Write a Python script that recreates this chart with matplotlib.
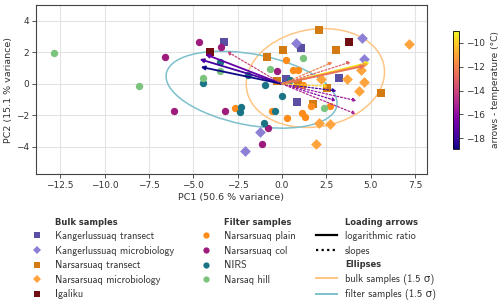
import numpy as np
import matplotlib
matplotlib.use("Agg")
import matplotlib.pyplot as plt
from matplotlib.lines import Line2D
from matplotlib.patches import Ellipse
from matplotlib.font_manager import FontProperties

plt.rcParams['font.family'] = ['DejaVu Sans']
plt.rcParams['mathtext.fontset'] = 'cm'

# ---------------- data ----------------
# Bulk samples
kang_tr_x = [-3.27, 1.09, 0.25, 3.19, 0.87]
kang_tr_y = [2.66, 2.30, 0.29, 0.36, -1.13]
kang_mb_x = [0.81, 4.53, 4.60, -1.22, -2.06]
kang_mb_y = [2.62, 2.89, 1.60, -3.06, -4.28]
nars_tr_x = [2.07, 0.07, 3.04, -0.86, -0.31, 0.89, 2.54, 5.60, 1.72]
nars_tr_y = [3.44, 2.13, 2.17, 1.68, 0.17, -0.02, -0.27, -0.60, -1.25]
nars_mb_x = [7.14, 4.47, 2.20, 3.66, 4.62, 4.31, 2.07, 2.71, 1.94]
nars_mb_y = [2.55, 0.91, 0.30, 0.32, 0.13, -0.43, -2.51, -2.55, -3.83]
igal_x = [-4.03, 3.76]
igal_y = [2.00, 2.64]

# Filter samples
plain_x = [0.20, 0.62, 0.90, 1.18, -2.63, -0.54, 0.28, 1.13, 1.28, 1.61, 2.73]
plain_y = [1.51, 0.89, 0.87, -0.04, -1.53, -1.70, -2.19, -1.87, -2.09, -1.39, -1.39]
col_x = [-4.65, -3.41, -6.59, -6.06, -3.23, -0.29, -0.79, -1.10]
col_y = [2.64, 2.36, 1.74, -1.72, -1.70, 0.79, -2.81, -3.79]
nirs_x = [-3.47, -4.47, -1.93, -0.97, 0.45, -0.02, -2.29, -2.34, -0.41, -1.03]
nirs_y = [1.42, 0.04, 0.58, -0.08, 0.25, -0.76, -1.45, -1.77, -1.75, -2.47]
hill_x = [-12.86, -8.03, -4.47, -3.47, -0.69, 1.20, 2.37]
hill_y = [1.98, -0.15, 0.38, 0.85, 0.93, 1.62, -1.51]

# Loading arrows
arrow_x = [-4.32, -4.64, -4.58, 4.94, 4.88, 4.70,
           -3.10, 2.85, 3.89, 3.08, 3.05, 4.20, 4.17, 2.60]
arrow_y = [1.88, 1.57, 1.08, 1.37, 1.28, 1.16,
           2.06, 1.38, 1.40, -0.45, -1.07, -1.07, -1.92, -0.15]
arrow_temp = [-17.0, -17.8, -18.9, -9.0, -11.0, -12.5,
              -14.0, -12.0, -13.0, -18.0, -16.5, -15.5, -15.0, -10.0]
arrow_kind = ['log', 'log', 'log', 'log', 'log', 'log',
              'slope', 'slope', 'slope', 'slope', 'slope', 'slope', 'slope', 'slope']

# ---------------- styles ----------------
c_kang_tr = '#5a4fa2'
c_kang_mb = '#8c80d6'
c_nars_tr = '#d47a12'
c_nars_mb = '#ffa33d'
c_igal = '#700f12'
c_plain = '#ff8c1a'
c_col = '#9c1b7b'
c_nirs = '#1b7486'
c_hill = '#7cc47e'
c_ell_bulk = '#ffc585'
c_ell_filt = '#7dc0cd'

fig = plt.figure(figsize=(5.0, 3.07), dpi=100)
ax = fig.add_axes([0.072, 0.432, 0.781, 0.551])
cax = fig.add_axes([0.906, 0.514, 0.012, 0.386])

ax.grid(True, color='#e3e3e3', lw=0.8, zorder=0)
ax.set_axisbelow(True)
for s in ax.spines.values():
    s.set_color('#444444')
    s.set_linewidth(0.8)
ax.tick_params(labelsize=6.5, length=3, width=0.6, colors='#333333', pad=2)


def ellipse_from(xs, ys, color):
    pts = np.vstack([xs, ys])
    mean = pts.mean(axis=1)
    cov = np.cov(pts)
    vals, vecs = np.linalg.eigh(cov)
    order = vals.argsort()[::-1]
    vals, vecs = vals[order], vecs[:, order]
    ang = np.degrees(np.arctan2(vecs[1, 0], vecs[0, 0]))
    w, h = 2 * 1.5 * np.sqrt(vals)
    e = Ellipse(mean, w, h, angle=ang, fill=False, edgecolor=color, lw=1.1, zorder=2)
    ax.add_patch(e)


bulk_x = kang_tr_x + kang_mb_x + nars_tr_x + nars_mb_x + igal_x
bulk_y = kang_tr_y + kang_mb_y + nars_tr_y + nars_mb_y + igal_y
filt_x = plain_x + col_x + nirs_x + hill_x
filt_y = plain_y + col_y + nirs_y + hill_y
ellipse_from(bulk_x, bulk_y, c_ell_bulk)
ellipse_from(filt_x, filt_y, c_ell_filt)

ms_sq = 26
ms_di = 30
ms_ci = 28
ax.scatter(kang_tr_x, kang_tr_y, marker='s', s=ms_sq, color=c_kang_tr, zorder=3, lw=0)
ax.scatter(kang_mb_x, kang_mb_y, marker='D', s=ms_di, color=c_kang_mb, zorder=3, lw=0)
ax.scatter(nars_tr_x, nars_tr_y, marker='s', s=ms_sq, color=c_nars_tr, zorder=3, lw=0)
ax.scatter(nars_mb_x, nars_mb_y, marker='D', s=ms_di, color=c_nars_mb, zorder=3, lw=0)
ax.scatter(igal_x, igal_y, marker='s', s=ms_sq, color=c_igal, zorder=3, lw=0)
ax.scatter(plain_x, plain_y, marker='o', s=ms_ci, color=c_plain, zorder=3, lw=0)
ax.scatter(col_x, col_y, marker='o', s=ms_ci, color=c_col, zorder=3, lw=0)
ax.scatter(nirs_x, nirs_y, marker='o', s=ms_ci, color=c_nirs, zorder=3, lw=0)
ax.scatter(hill_x, hill_y, marker='o', s=ms_ci, color=c_hill, zorder=3, lw=0)

cmap = plt.get_cmap('plasma')
norm = matplotlib.colors.Normalize(vmin=min(arrow_temp), vmax=max(arrow_temp))
for x, y, t, k in zip(arrow_x, arrow_y, arrow_temp, arrow_kind):
    col = cmap(norm(t))
    if k == 'log':
        ax.annotate('', xy=(x, y), xytext=(0, 0),
                    arrowprops=dict(arrowstyle='-|>', color=col, lw=1.3,
                                    mutation_scale=5.5, shrinkA=0, shrinkB=0),
                    zorder=4)
    else:
        ax.annotate('', xy=(x, y), xytext=(0, 0),
                    arrowprops=dict(arrowstyle='-|>', color=col, lw=0.9, linestyle=(0, (1.5, 1.5)),
                                    mutation_scale=5, shrinkA=0, shrinkB=0),
                    zorder=4)

ax.margins(x=0.05)
ax.set_ylim(-5.75, 5.0)
ax.set_yticks([-4, -2, 0, 2, 4])
ax.set_xlabel('PC1 (50.6 % variance)', fontsize=6.8, color='#333333', labelpad=2)
ax.set_ylabel('PC2 (15.1 % variance)', fontsize=6.8, color='#333333', labelpad=2)

sm = matplotlib.cm.ScalarMappable(norm=norm, cmap=cmap)
cb = fig.colorbar(sm, cax=cax)
cb.outline.set_linewidth(0.6)
cb.ax.tick_params(labelsize=6.5, length=3, width=0.6, colors='#333333', pad=2)
cb.set_label('arrows - temperature (°C)', fontsize=6.5, color='#333333', labelpad=4)

# ---------------- legends ----------------
leg_font = FontProperties(family=['cmss10', 'DejaVu Sans'], size=7.4)
title_font = FontProperties(family='DejaVu Sans', weight='bold', size=6.0)
blank = Line2D([], [], color='none')


def mk(marker, color, ms):
    return Line2D([], [], marker=marker, color=color, linestyle='none', markersize=ms, markeredgewidth=0)


def make_legend(handles, labels, x, titles):
    leg = fig.legend(handles, labels, loc='upper left', bbox_to_anchor=(x, 0.292),
                     frameon=False, prop=leg_font, handlelength=2.1, handletextpad=0.75,
                     labelspacing=0.44, borderaxespad=0, borderpad=0)
    for i, t in enumerate(leg.get_texts()):
        t.set_color('#333333')
        if i in titles:
            t.set_fontproperties(title_font)
    return leg


make_legend([blank, mk('s', c_kang_tr, 4.2), mk('D', c_kang_mb, 4.2), mk('s', c_nars_tr, 4.2),
             mk('D', c_nars_mb, 4.2), mk('s', c_igal, 4.2)],
            ['Bulk samples', 'Kangerlussuaq transect', 'Kangerlussuaq microbiology',
             'Narsarsuaq transect', 'Narsarsuaq microbiology', 'Igaliku'],
            0.052, [0])
make_legend([blank, mk('o', c_plain, 4.5), mk('o', c_col, 4.5), mk('o', c_nirs, 4.5), mk('o', c_hill, 4.5)],
            ['Filter samples', 'Narsarsuaq plain', 'Narsarsuaq col', 'NIRS', 'Narsaq hill'],
            0.390, [0])
make_legend([blank, Line2D([], [], color='black', lw=1.6), Line2D([], [], color='black', lw=1.6, linestyle=(0, (1, 1.5))),
             blank, Line2D([], [], color=c_ell_bulk, lw=1.4), Line2D([], [], color=c_ell_filt, lw=1.4)],
            ['Loading arrows', 'logarithmic ratio', 'slopes', 'Ellipses',
             'bulk samples (1.5 σ)', 'filter samples (1.5 σ)'],
            0.631, [0, 3])

fig.savefig('out.png', dpi=100)
